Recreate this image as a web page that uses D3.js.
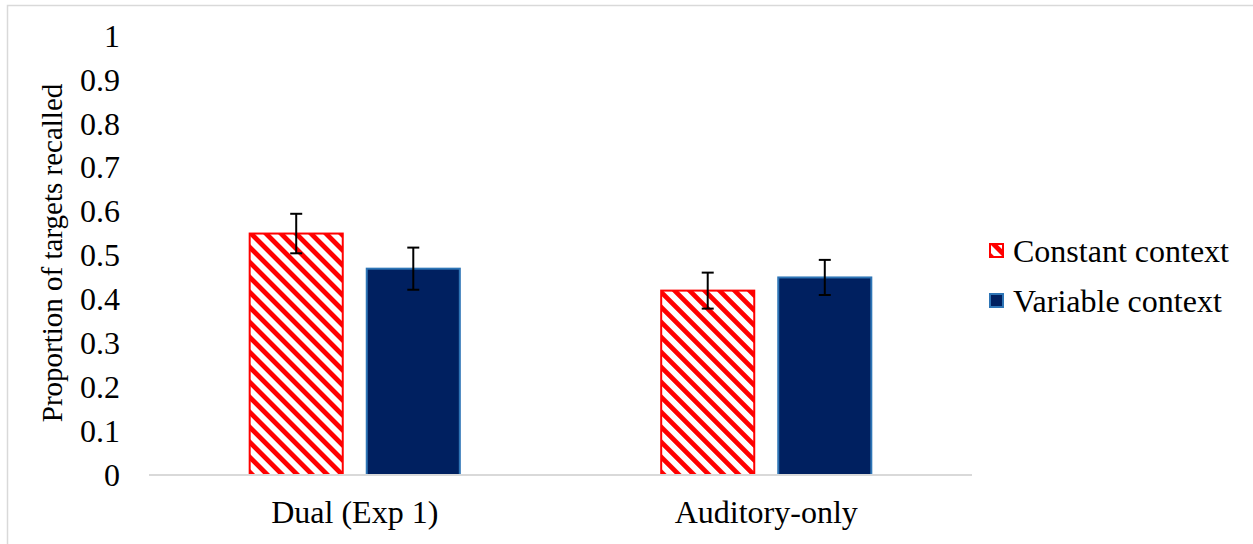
<!DOCTYPE html>
<html lang="en">
<head>
<meta charset="UTF-8">
<title>Proportion of targets recalled</title>
<script src="https://d3js.org/d3.v7.min.js"></script>
<style>
  body { margin: 0; padding: 0; background: #fff; }
  svg { display: block; }
  text { font-family: "Liberation Serif", "Times New Roman", serif; fill: #000; }
</style>
</head>
<body>
<script>
// chart data
var categories = ["Dual (Exp 1)", "Auditory-only"];
var seriesNames = ["Constant context", "Variable context"];
var constantValues = [0.55, 0.42];
var variableValues = [0.47, 0.45];
var constantErrors = [0.045, 0.041];
var variableErrors = [0.048, 0.040];
var yTicks = [0, 0.1, 0.2, 0.3, 0.4, 0.5, 0.6, 0.7, 0.8, 0.9, 1];

var width = 1253, height = 544;
var plot = { left: 149, right: 972, top: 36, bottom: 475 };

var svg = d3.select("body").append("svg")
    .attr("width", width)
    .attr("height", height);

// hatch pattern for constant context (stripes running top-left to bottom-right)
var defs = svg.append("defs");
var pat = defs.append("pattern")
    .attr("id", "hatch")
    .attr("patternUnits", "userSpaceOnUse")
    .attr("width", 10.6)
    .attr("height", 10.6)
    .attr("patternTransform", "rotate(-45)");
pat.append("rect").attr("width", 10.6).attr("height", 10.6).attr("fill", "#fff");
pat.append("rect").attr("width", 4.8).attr("height", 10.6).attr("fill", "#ff0000");

// outer chart border
svg.append("rect")
    .attr("x", 7.5).attr("y", 5.5)
    .attr("width", 1250).attr("height", 560)
    .attr("fill", "none")
    .attr("stroke", "#d9d9d9")
    .attr("stroke-width", 1.5);

var x0 = d3.scaleBand()
    .domain(categories)
    .range([plot.left, plot.right]);

var x1 = d3.scaleBand()
    .domain(seriesNames)
    .range([0, x0.bandwidth()])
    .paddingInner(0.205)
    .paddingOuter(0.86);

var y = d3.scaleLinear()
    .domain([0, 1])
    .range([plot.bottom, plot.top]);

// y axis tick labels
var yAxis = d3.axisLeft(y)
    .tickValues(yTicks)
    .tickSize(0)
    .tickPadding(0)
    .tickFormat(d3.format("~g"));

var gy = svg.append("g")
    .attr("transform", "translate(120,0)")
    .call(yAxis);
gy.select(".domain").remove();
gy.selectAll("text")
    .style("font-family", "'Liberation Serif', 'Times New Roman', serif")
    .style("font-size", "32px")
    .attr("fill", "#000");

// build rows
var rows = categories.map(function(c, i) {
    return [
        { cat: c, series: seriesNames[0], value: constantValues[i], err: constantErrors[i] },
        { cat: c, series: seriesNames[1], value: variableValues[i], err: variableErrors[i] }
    ];
});

var groups = svg.selectAll("g.cat")
    .data(rows)
    .join("g")
    .attr("class", "cat")
    .attr("transform", function(d) { return "translate(" + x0(d[0].cat) + ",0)"; });

groups.selectAll("rect")
    .data(function(d) { return d; })
    .join("rect")
    .attr("x", function(d) { return x1(d.series); })
    .attr("y", function(d) { return y(d.value); })
    .attr("width", x1.bandwidth())
    .attr("height", function(d) { return y(0) - y(d.value); })
    .attr("fill", function(d) { return d.series === seriesNames[0] ? "url(#hatch)" : "#002060"; })
    .attr("stroke", function(d) { return d.series === seriesNames[0] ? "#ff0000" : "#2e75b6"; })
    .attr("stroke-width", 2);

// baseline
svg.append("line")
    .attr("x1", plot.left).attr("x2", plot.right)
    .attr("y1", y(0)).attr("y2", y(0))
    .attr("stroke", "#d9d9d9")
    .attr("stroke-width", 2);

// error bars
var eb = groups.selectAll("g.err")
    .data(function(d) { return d; })
    .join("g")
    .attr("class", "err")
    .attr("transform", function(d) { return "translate(" + (x1(d.series) + x1.bandwidth() / 2) + ",0)"; });
eb.append("line")
    .attr("y1", function(d) { return y(d.value + d.err); })
    .attr("y2", function(d) { return y(d.value - d.err); })
    .attr("stroke", "#000").attr("stroke-width", 2);
eb.selectAll("line.cap")
    .data(function(d) { return [d.value + d.err, d.value - d.err]; })
    .join("line")
    .attr("class", "cap")
    .attr("x1", -6).attr("x2", 6)
    .attr("y1", function(v) { return y(v); })
    .attr("y2", function(v) { return y(v); })
    .attr("stroke", "#000").attr("stroke-width", 2);

// category labels
svg.selectAll("text.cat")
    .data(categories)
    .join("text")
    .attr("class", "cat")
    .attr("x", function(d) { return x0(d) + x0.bandwidth() / 2; })
    .attr("y", 523)
    .attr("text-anchor", "middle")
    .style("font-size", "32px")
    .text(function(d) { return d; });

// y axis title
svg.append("text")
    .attr("transform", "translate(62,253) rotate(-90)")
    .attr("text-anchor", "middle")
    .style("font-size", "29px")
    .text("Proportion of targets recalled");

// legend
var legend = svg.selectAll("g.legend")
    .data(seriesNames)
    .join("g")
    .attr("class", "legend")
    .attr("transform", function(d, i) { return "translate(990," + (244 + i * 50) + ")"; });
legend.append("rect")
    .attr("width", 13).attr("height", 13)
    .attr("fill", function(d, i) { return i === 0 ? "url(#hatch)" : "#002060"; })
    .attr("stroke", function(d, i) { return i === 0 ? "#ff0000" : "#2e75b6"; })
    .attr("stroke-width", 2);
legend.append("text")
    .attr("x", 23)
    .attr("y", 18)
    .style("font-size", "32px")
    .text(function(d) { return d; });
</script>
</body>
</html>
